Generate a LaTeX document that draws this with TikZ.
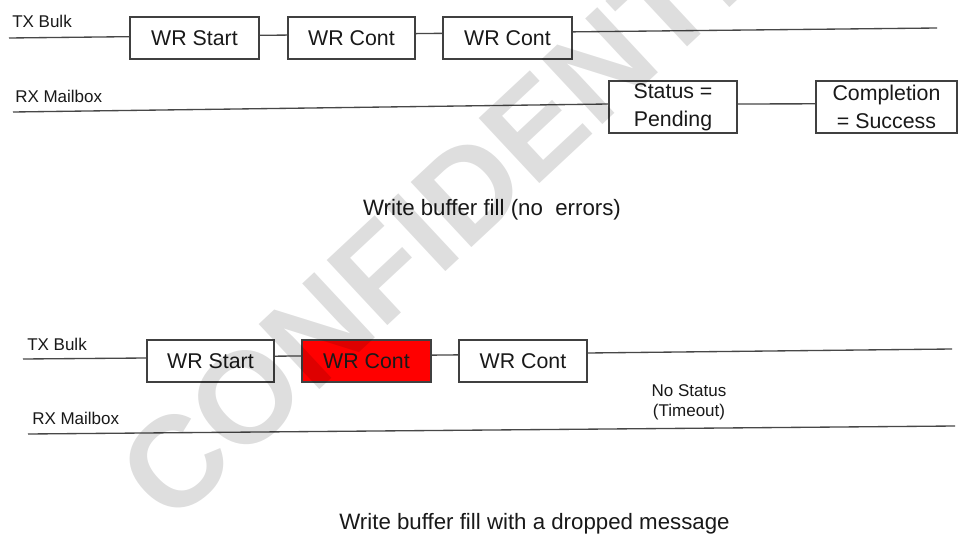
\documentclass[tikz,border=0pt]{standalone}
\usepackage{fontspec}
\setmainfont{Liberation Sans}
\begin{document}
\begin{tikzpicture}[x=0.75pt,y=-0.75pt,
  box/.style={draw=black!75, line width=1pt, fill=white, minimum height=31.5pt, inner sep=0pt,
    font=\fontsize{16}{21}\selectfont, text=black!90, align=center},
  wire/.style={draw=black!72, line width=1pt},
  lbl/.style={font=\fontsize{12.75}{15}\selectfont, inner sep=0pt, anchor=base west, text=black!90},
  caption/.style={font=\fontsize{16.7}{20}\selectfont, inner sep=0pt, anchor=base, text=black!90},
  mark watermark/.style={font=\bfseries\fontsize{97}{100}\selectfont, text=black, text opacity=0.13, rotate=43, inner sep=0pt}]
\useasboundingbox (0,0) rectangle (958,542);
\clip (0,0) rectangle (958,542);
\fill[white] (0,0) rectangle (958,542);

% ---------- top scenario ----------
\node[lbl] (tx1) at (12,28) {TX Bulk};
\node[lbl] (rx1) at (15,103) {RX Mailbox};
\coordinate (tx1a) at (9,38);
\coordinate (tx1b) at (937,28);
\coordinate (rx1a) at (13,112);

\node[box, minimum width=96.75pt] (a1) at (194.5,38) {WR Start};
\node[box, minimum width=95.25pt] (a2) at (351.5,38) {WR Cont};
\node[box, minimum width=96.75pt] (a3) at (507.5,38) {WR Cont};
\node[box, minimum width=96pt, minimum height=39pt] (st) at (673,107) {Status =\\Pending};
\node[box, minimum width=105.75pt, minimum height=39pt] (co) at (886.5,107) {Completion\\= Success};

\draw[wire] (tx1a) -- ([yshift=1pt]a1.west);
\draw[wire] ([yshift=2pt]a1.east) -- ([yshift=2.2pt]a2.west);
\draw[wire] ([yshift=3.3pt]a2.east) -- ([yshift=3.5pt]a3.west);
\draw[wire] ([yshift=4.6pt]a3.east) -- (tx1b);
\draw[wire] (rx1a) -- ([yshift=2.25pt]st.west);
\draw[wire] ([yshift=2.25pt]st.east) -- ([yshift=2.4pt]co.west);

\node[caption] (c1) at (492,215) {Write buffer fill (no\ \ errors)};

% ---------- bottom scenario ----------
\node[lbl] (tx2) at (27,350) {TX Bulk};
\node[lbl] (rx2) at (32,424) {RX Mailbox};
\coordinate (tx2a) at (23,359);
\coordinate (tx2b) at (952,349);
\coordinate (rx2a) at (28,434);
\coordinate (rx2b) at (955,426);

\node[box, minimum width=95.25pt] (b1) at (210.5,361) {WR Start};
\node[box, minimum width=96.75pt, fill=red] (b2) at (366.5,361) {WR Cont};
\node[box, minimum width=96pt] (b3) at (523,361) {WR Cont};

\draw[wire] (tx2a) -- ([yshift=2.25pt]b1.west);
\draw[wire] ([yshift=3.6pt]b1.east) -- ([yshift=3.8pt]b2.west);
\draw[wire] ([yshift=4.4pt]b2.east) -- ([yshift=4.6pt]b3.west);
\draw[wire] ([yshift=6pt]b3.east) -- (tx2b);
\draw[wire] (rx2a) -- (rx2b);

\node[font=\fontsize{12.75}{15}\selectfont, align=center, inner sep=0pt, text=black!90] (ns) at (689,402) {No Status\\(Timeout)};

\node[caption] (c2) at (534.5,529) {Write buffer fill with a dropped message};

% ---------- watermark ----------
\node[mark watermark] (wm) at (493,167) {CONFIDENTIAL};
\end{tikzpicture}
\end{document}
